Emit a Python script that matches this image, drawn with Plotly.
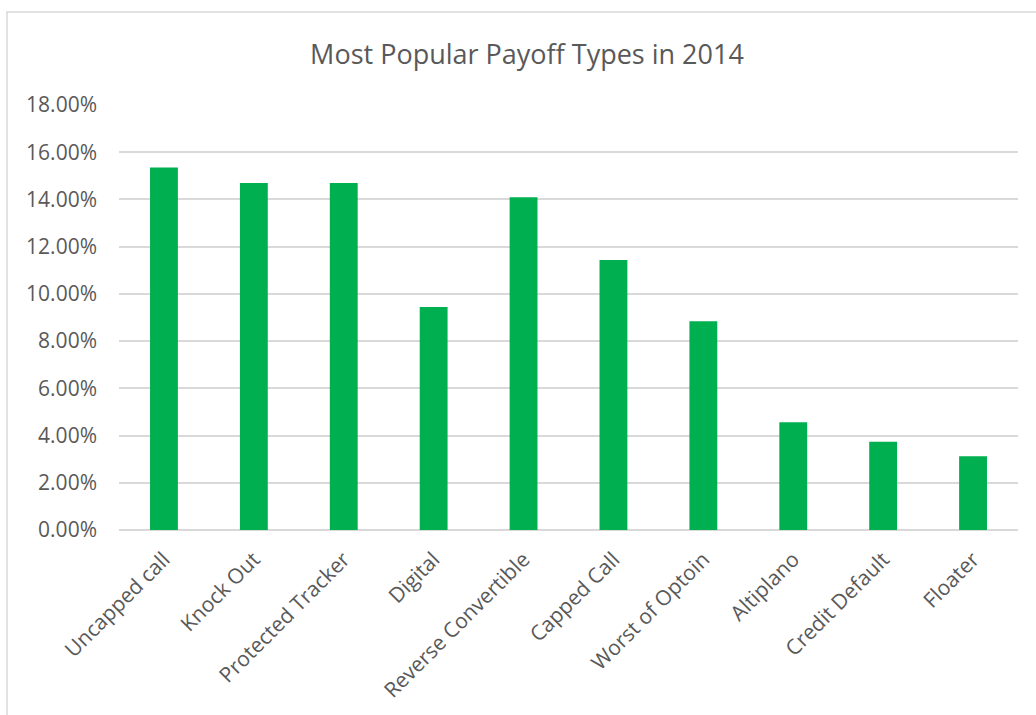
import plotly.graph_objects as go

# ── Data ─────────────────────────────────────────────────────
payoff_types = [
    "Uncapped call", "Knock Out", "Protected Tracker", "Digital",
    "Reverse Convertible", "Capped Call", "Worst of Optoin",
    "Altiplano", "Credit Default", "Floater",
]
share = [0.1535, 0.1470, 0.1470, 0.0944, 0.1409, 0.1144, 0.0884, 0.0456, 0.0374, 0.0312]
y_ticks = [0, 0.02, 0.04, 0.06, 0.08, 0.10, 0.12, 0.14, 0.16, 0.18]

TEXT = "#595959"
GRID = "#D9D9D9"

fig = go.Figure()

fig.add_trace(go.Bar(
    x=payoff_types,
    y=share,
    marker=dict(color="#00B050", line=dict(width=0)),
    hovertemplate="%{x}: %{y:.2%}<extra></extra>",
))

fig.update_layout(
    width=1036,
    height=715,
    paper_bgcolor="white",
    plot_bgcolor="white",
    font=dict(family="Open Sans", color=TEXT),
    title=dict(
        text="Most Popular Payoff Types in 2014",
        font=dict(size=27, color=TEXT),
        x=527 / 1036, xref="container", xanchor="center",
        y=1 - 55 / 715, yref="container", yanchor="middle",
    ),
    showlegend=False,
    bargap=0.69,
    margin=dict(t=105, b=185, l=119, r=18),
    xaxis=dict(
        tickangle=-45,
        tickfont=dict(size=21, color=TEXT),
        showgrid=False,
        showline=False,
        ticks="",
        ticklabelstandoff=12,
    ),
    yaxis=dict(
        range=[0, 0.18],
        tickvals=y_ticks,
        tickformat=".2%",
        tickfont=dict(size=21, color=TEXT),
        gridcolor=GRID,
        gridwidth=1.5,
        zeroline=True,
        zerolinecolor=GRID,
        zerolinewidth=1.5,
        showline=False,
        ticklabelstandoff=21,
    ),
    shapes=[
        # chart frame (only top and left edges fall inside the picture)
        dict(
            type="rect", xref="paper", yref="paper",
            x0=-0.1246, x1=1.2, y0=-0.6, y1=1.2188,
            line=dict(color="#D9D9D9", width=1.5),
            fillcolor="rgba(0,0,0,0)", layer="below",
        ),
    ],
)

# drop the browser's default page margin so the figure sits at (0, 0)
fig.write_html(
    "out.html",
    config={"displayModeBar": False},
    post_script="document.body.style.margin='0';",
)
